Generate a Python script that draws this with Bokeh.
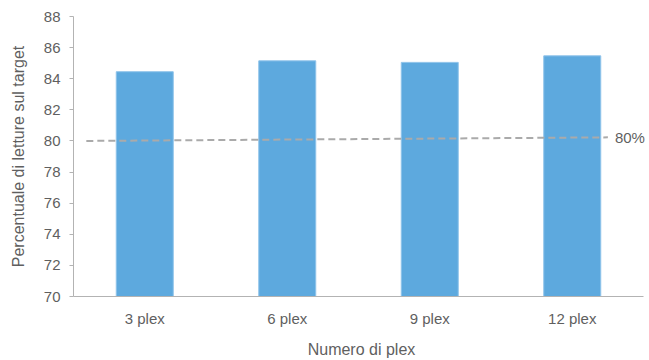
from bokeh.plotting import figure
from bokeh.models import ColumnDataSource, FixedTicker, Label, Range1d
from bokeh.embed import file_html
from bokeh.resources import INLINE

categories = ["3 plex", "6 plex", "9 plex", "12 plex"]
values = [84.45, 85.15, 85.05, 85.47]
target_x = [0.09, 3.75]
target_y = [80.0, 80.23]
target_label = "80%"
y_ticks = [70, 72, 74, 76, 78, 80, 82, 84, 86, 88]

FONT = "Liberation Sans"
TXT = "#5f5f5f"
AXC = "#b3b3b3"

xpos = [i + 0.5 for i in range(len(categories))]
src = ColumnDataSource(dict(x=xpos, top=values, cat=categories))

# frame runs to the window edge so the "80%" label is not clipped
x_end = len(categories) * 576 / 570

p = figure(width=649, height=360, output_backend="svg", toolbar_location=None,
           x_range=Range1d(0, x_end), y_range=Range1d(70, 88),
           min_border_left=73, min_border_right=0, min_border_top=16, min_border_bottom=64)
p.outline_line_color = None
p.xgrid.visible = False
p.ygrid.visible = False

p.vbar(x="x", top="top", bottom=70, width=0.4, source=src,
       fill_color="#5DA9DE", line_color="#8fc3ea", line_width=1)

p.line(target_x, target_y, line_color="#aaaaaa", line_width=2, line_dash="7 4")
p.add_layout(Label(x=target_x[-1], y=target_y[-1], text=target_label, x_offset=7,
                   text_baseline="middle", text_font=FONT, text_font_size="15px",
                   text_color=TXT))

p.xaxis.ticker = FixedTicker(ticks=xpos)
p.xaxis.major_label_overrides = {x: c for x, c in zip(xpos, categories)}
p.xaxis.major_tick_out = 0
p.xaxis.major_tick_in = 0
p.xaxis.minor_tick_line_color = None
p.xaxis.axis_label = "Numero di plex"
p.xaxis.major_label_standoff = 13
p.xaxis.axis_label_standoff = 11
p.xaxis.bounds = (0, len(categories))

p.yaxis.ticker = FixedTicker(ticks=y_ticks)
p.yaxis.major_tick_out = 4
p.yaxis.major_tick_in = 0
p.yaxis.minor_tick_line_color = None
p.yaxis.axis_label = "Percentuale di letture sul target"
p.yaxis.major_label_standoff = 9
p.yaxis.axis_label_standoff = 14

for ax in (p.xaxis, p.yaxis):
    ax.axis_line_color = AXC
    ax.major_tick_line_color = AXC
    ax.major_label_text_font = FONT
    ax.major_label_text_font_size = "15px"
    ax.major_label_text_color = TXT
    ax.axis_label_text_font = FONT
    ax.axis_label_text_font_size = "16px"
    ax.axis_label_text_font_style = "normal"
    ax.axis_label_text_color = TXT

open("out.html", "w").write(file_html(p, INLINE))
